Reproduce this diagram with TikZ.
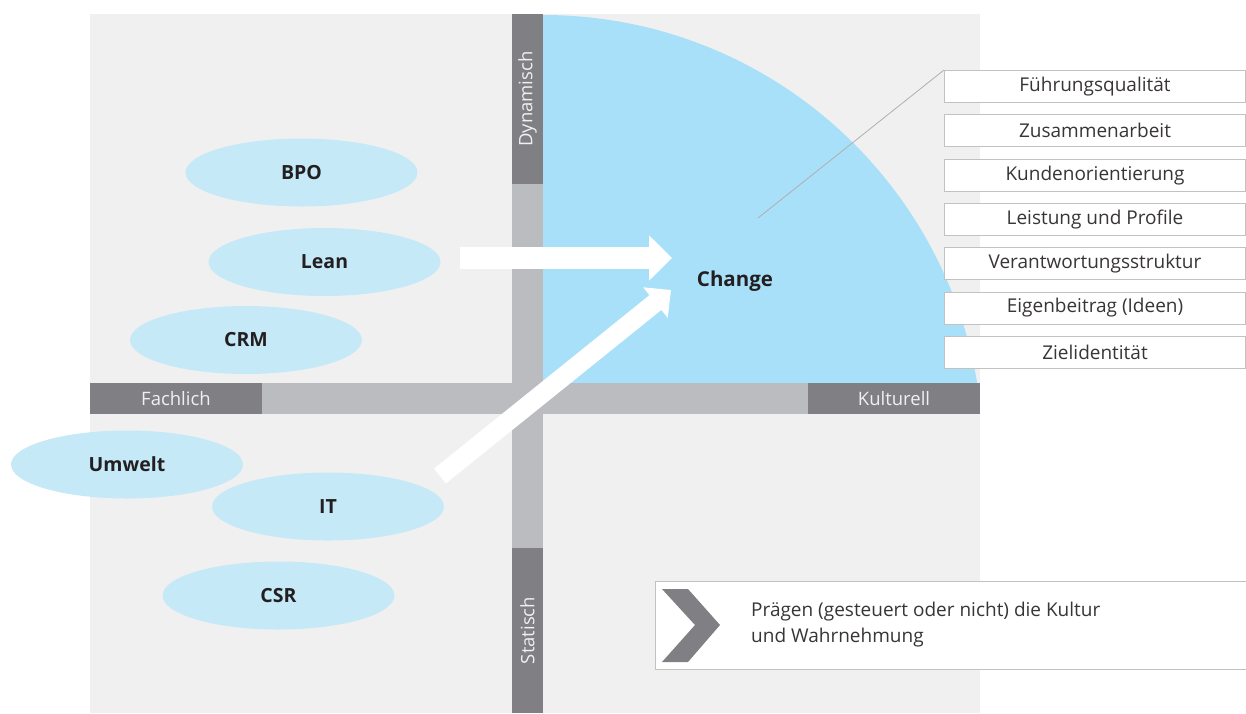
\documentclass[tikz,border=0pt]{standalone}
\usepackage{fontspec}
\setmainfont{Open Sans}
\usetikzlibrary{positioning,shapes.geometric,arrows.meta}

\definecolor{bggray}{HTML}{F0F0F0}
\definecolor{bardark}{HTML}{808084}
\definecolor{barlight}{HTML}{BBBCC0}
\definecolor{changeblue}{HTML}{A8E0F9}
\definecolor{topicblue}{HTML}{C6E9F8}
\definecolor{boxline}{HTML}{C2C2C2}
\definecolor{inkdark}{HTML}{231F20}

\begin{document}
\begin{tikzpicture}[x=1pt,y=-1pt,
    topic/.style={ellipse,fill=topicblue,minimum width=232pt,minimum height=68pt,inner sep=0pt,text=inkdark,font=\fontsize{19.5}{22}\selectfont\bfseries},
    axislabel/.style={fill=bardark,text=bggray,inner sep=0pt,minimum height=31pt,font=\fontsize{18.5}{22}\selectfont},
    factor/.style={draw=boxline,line width=1pt,fill=white,minimum width=301pt,minimum height=32pt,inner sep=0pt,text=inkdark!90,font=\fontsize{19}{22}\selectfont},
    bigarrow/.style={white,line width=22pt,-{Triangle[width=44pt,length=23pt]}}]
    \useasboundingbox (0,0) rectangle (1246,713);
    \fill[bggray] (90,14) rectangle (980,713); %
    % quarter for change
    \begin{scope}
      \clip (543,14) rectangle (980,383);
      \fill[changeblue] (543,455) circle[radius=440pt];
    \end{scope}
    % the two axes
    \fill[barlight] (512,14) rectangle (543,713);
    \fill[barlight] (90,383) rectangle (980,414);
    \node[axislabel,rotate=90,minimum width=170pt] (dyn) at (527.5,99) {Dynamisch}; %
    \node[axislabel,rotate=90,minimum width=165pt] (stat) at (527.5,630.5) {Statisch}; %
    \node[axislabel,minimum width=172pt] (fach) at (176,398.5) {Fachlich}; %
    \node[axislabel,minimum width=172pt] (kult) at (894,398.5) {Kulturell}; %
    % topics
    \node[topic] (bpo) at (301.5,172.5) {BPO}; %
    \node[topic] (lean) at (324.5,262) {Lean}; %
    \node[topic] (crm) at (246,340) {CRM}; %
    \node[topic] (umwelt) at (127,464.5) {Umwelt}; %
    \node[topic] (it) at (328,506.5) {IT}; %
    \node[topic] (csr) at (278.5,595.5) {CSR}; %
    \node[anchor=base,text=inkdark,font=\fontsize{20.5}{22}\selectfont\bfseries] (change) at (735,286) {Change}; %
    % arrows into change
    \coordinate (leanout) at (460,258);
    \coordinate (leanin) at (672,258);
    \coordinate (itout) at (440,476);
    \coordinate (itin) at (671,290);
    \draw[bigarrow] (leanout) -- (leanin);
    \draw[bigarrow,line width=19pt,-{Triangle[width=38pt,length=20pt]}] (itout) -- (itin);
    % factors of change
    \node[factor,anchor=north west] (fq) at (944,70) {Führungsqualität}; %
    \node[factor,below=11.3pt of fq] (za) {Zusammenarbeit};
    \node[factor,below=11.3pt of za] (ko) {Kundenorientierung};
    \node[factor,below=11.3pt of ko] (lp) {Leistung und Profile};
    \node[factor,below=11.3pt of lp] (vs) {Verantwortungsstruktur};
    \node[factor,below=11.3pt of vs] (eb) {Eigenbeitrag (Ideen)};
    \node[factor,below=11.3pt of eb] (zi) {Zielidentität};
    \coordinate (pointer) at (758,218);
    \draw[boxline!90!black,line width=0.8pt] (fq.north west) -- (pointer);
    % legend
    \node[draw=boxline,line width=1pt,fill=white,anchor=north west,minimum width=591pt,minimum height=88pt] (legend) at (654.5,581) {}; %
    \fill[bardark] (662,589) -- (688,589) -- (720,625) -- (688,662) -- (662,662) -- (695,625) -- cycle;
    \node[anchor=north west,align=left,inner sep=0pt,text=inkdark!90,font=\fontsize{19}{26}\selectfont] (legendtext) at (751,602) {Prägen (gesteuert oder nicht) die Kultur\\und Wahrnehmung};
\end{tikzpicture}
\end{document}
